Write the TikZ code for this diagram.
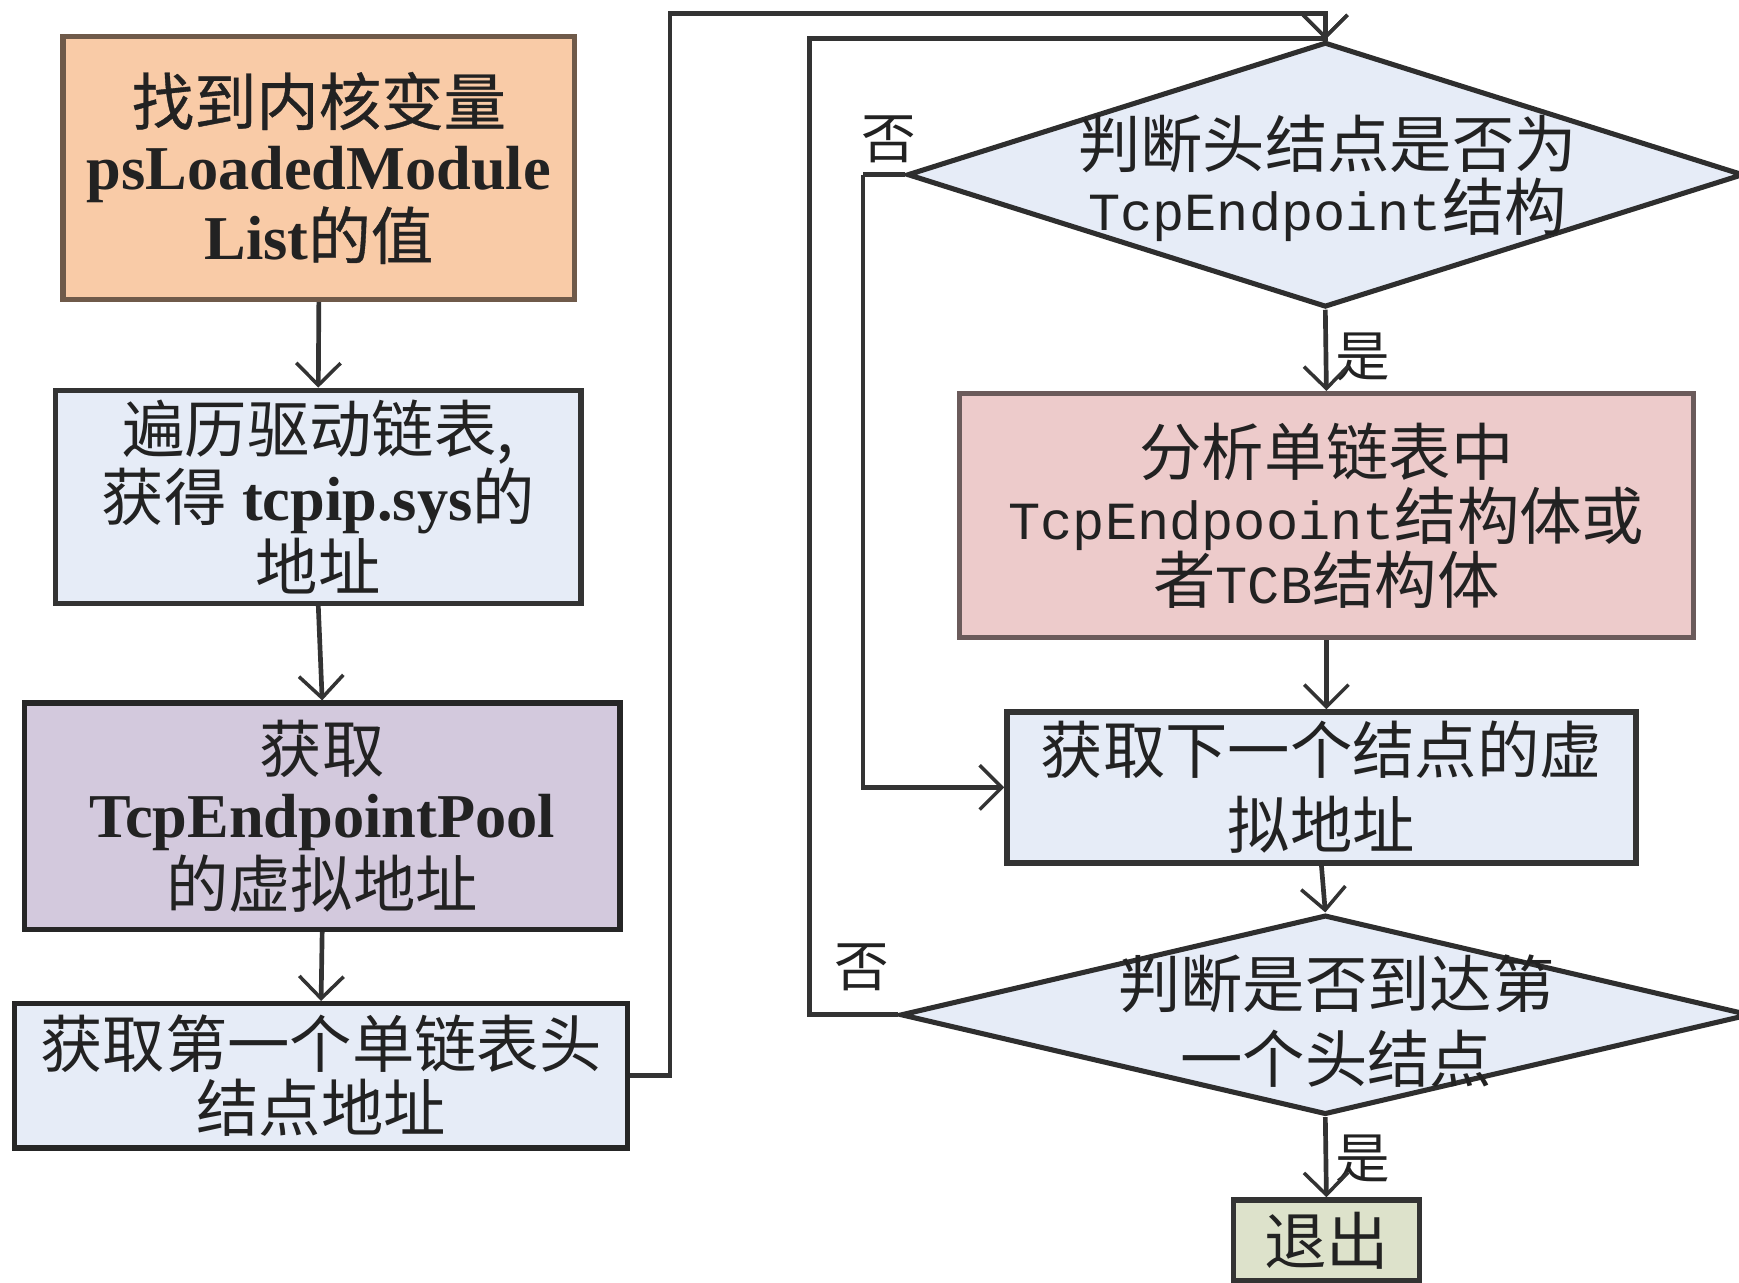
\documentclass[tikz,border=0pt]{standalone}
\usepackage{fontspec}
\setmainfont{Liberation Serif}
\newfontfamily\cjkfont{Noto Sans CJK SC}
\newfontfamily\cjkheavy[FakeBold=0.6]{Noto Sans CJK SC}
\newfontfamily\monolat[Scale=0.86]{Liberation Mono}
\usetikzlibrary{arrows.meta,shapes.geometric}
\newcommand\ZH[1]{{\cjkfont #1}}
\newcommand\ZHB[1]{{\cjkheavy #1}}
\newcommand\LT[1]{{\bfseries #1}}
\newcommand\MN[1]{{\monolat #1}}
\definecolor{peach}{HTML}{F9CBA7}
\definecolor{peachline}{HTML}{6F5A4A}
\definecolor{paleblue}{HTML}{E6ECF7}
\definecolor{lilac}{HTML}{D3C9DD}
\definecolor{rosy}{HTML}{EDCBCB}
\definecolor{rosyline}{HTML}{6B5B5B}
\definecolor{sage}{HTML}{DDE2CB}
\definecolor{ink}{HTML}{333333}
\definecolor{txt}{HTML}{222222}
\tikzset{
  stepbox/.style={draw=ink, line width=1.4pt, rectangle, inner sep=0pt,
    align=center, text=txt, font=\fontsize{16}{16.5}\selectfont},
  decision/.style={draw=ink!90!black, line width=1.3pt, diamond, inner sep=0pt, fill=paleblue},
  dtext/.style={align=center, text=txt, inner sep=0pt},
  flow/.style={draw=ink, line width=1.2pt,
    -{Straight Barb[length=2mm,width=4mm,line width=0.9pt]}},
  plainflow/.style={draw=ink, line width=1.2pt},
  tag/.style={text=txt, inner sep=0pt, font=\fontsize{14}{14}\selectfont}
}
\begin{document}
\begin{tikzpicture}[x=0.1mm,y=-0.1mm]
\useasboundingbox (0,0) rectangle (1568,1156);

% left column
\node[stepbox, fill=peach, draw=peachline, minimum width=46.1mm, minimum height=23.7mm]
  (b1) at (287.5,151.5) {\ZHB{找到内核变量}\\ \LT{psLoadedModule}\\ \LT{List}\ZHB{的值}};
\node[stepbox, fill=paleblue, minimum width=47.4mm, minimum height=19.2mm]
  (b2) at (287,448) {\ZH{遍历驱动链表,}\\ \ZH{获得} \LT{tcpip.sys}\ZH{的}\\ \ZH{地址}};
\node[stepbox, fill=lilac, draw=black!85, minimum width=53.7mm, minimum height=20.4mm]
  (b3) at (290.5,736) {\ZH{获取}\\ \LT{TcpEndpointPool}\\ \ZH{的虚拟地址}};
\node[stepbox, fill=paleblue, draw=black!85, minimum width=55.3mm, minimum height=13mm]
  (b4) at (289.5,970) {\ZH{获取第一个单链表头}\\ \ZH{结点地址}};

% right column
\node[decision, minimum width=75.4mm, minimum height=23.9mm] (d1) at (1195,157.5) {};
\node[dtext, font=\fontsize{16}{16.2}\selectfont] (d1t) at (1197,161)
  {\ZH{判断头结点是否为}\\ \MN{TcpEndpoint}\ZH{结构}};
\node[stepbox, fill=rosy, draw=rosyline, minimum width=66.2mm, minimum height=22mm]
  (b6) at (1196,465) {\ZH{分析单链表中}\\ \MN{TcpEndpooint}\ZH{结构体或}\\ \ZH{者}\MN{TCB}\ZH{结构体}};
\node[stepbox, fill=paleblue, minimum width=56.7mm, minimum height=13.6mm,
  font=\fontsize{16}{19.3}\selectfont]
  (b5) at (1191.5,710) {\ZH{获取下一个结点的虚}\\ \ZH{拟地址}};
\node[decision, minimum width=76.6mm, minimum height=18mm] (d2) at (1195,915) {};
\node[dtext, font=\fontsize{16}{19.3}\selectfont] (d2t) at (1205,921)
  {\ZH{判断是否到达第}\\ \ZH{一个头结点}};
\node[stepbox, fill=sage, minimum width=16.8mm, minimum height=7.3mm]
  (ex) at (1196,1118.5) {\ZH{退出}};

% branch labels
\node[tag] (no1) at (801,126) {\ZH{否}};
\node[tag] (no2) at (777,872) {\ZH{否}};
\node[tag] (yes1) at (1229,322) {\ZH{是}};
\node[tag] (yes2) at (1229,1045) {\ZH{是}};

% bends of the loop lines
\coordinate (up1) at (604,12);
\coordinate (up2) at (730,35);
\coordinate (side) at (778,157.5);

% connectors
\draw[flow] (b1.south) -- (b2.north);
\draw[flow] (b2.south) -- (b3.north);
\draw[flow] (b3.south) -- (b4.north);
\draw[flow] (b4.east) -| (up1) -| (d1.north);
\draw[flow] (d2.west) -| (up2) -| (d1.north);
\draw[plainflow] (d1.west) -- (side);
\draw[flow] (side) |- (b5.west);
\draw[flow] (d1.south) -- (b6.north);
\draw[flow] (b6.south) -- (b6.south |- b5.north);
\draw[flow] (b5.south) -- (d2.north);
\draw[flow] (d2.south) -- (ex.north);
\end{tikzpicture}
\end{document}
